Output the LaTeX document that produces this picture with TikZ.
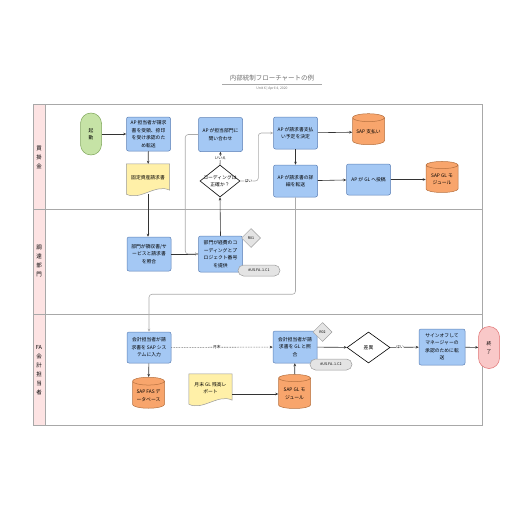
\documentclass[tikz,border=0pt]{standalone}
\usepackage{fontspec}
\setmainfont{Noto Sans CJK JP}
\usetikzlibrary{shapes.geometric,arrows.meta,backgrounds}
\definecolor{boxblue}{HTML}{A4C8F4}
\definecolor{boxblueb}{HTML}{5B7FB5}
\definecolor{docy}{HTML}{FFF0A8}
\definecolor{docb}{HTML}{9A9A9A}
\definecolor{cylo}{HTML}{F8A56C}
\definecolor{cylb}{HTML}{B5703F}
\definecolor{startg}{HTML}{C6E3A6}
\definecolor{startb}{HTML}{7FA65A}
\definecolor{endr}{HTML}{F9C8C8}
\definecolor{endb}{HTML}{E07070}
\definecolor{lanep}{HTML}{FDE3E3}
\definecolor{frameg}{HTML}{A8A8A8}
\definecolor{tagg}{HTML}{E4E4E4}
\definecolor{tagb}{HTML}{9C9C9C}
\definecolor{linek}{HTML}{333333}
\definecolor{lineg}{HTML}{ABABAB}
\definecolor{titleg}{HTML}{707070}
\tikzset{
  txt/.style={font=\fontsize{4.8}{7.5}\selectfont, align=center},
  proc/.style={txt, draw=boxblueb, fill=boxblue, rounded corners=2pt, minimum width=44pt, minimum height=34pt, inner sep=1pt, line width=0.5pt},
  cyl/.style={txt, cylinder, shape border rotate=90, aspect=0.3, draw=cylb, fill=cylo, minimum width=32pt, minimum height=31pt, inner sep=1pt, line width=0.5pt},
  docnode/.style={txt, minimum width=43pt, minimum height=28pt, inner sep=1pt},
  docpath/.style={draw=docb, fill=docy, line width=0.5pt},
  term/.style={txt, rounded corners=10.5pt, minimum width=21pt, minimum height=42pt, inner sep=0pt, line width=0.5pt},
  dia/.style={diamond, draw=black, fill=white, inner sep=0pt, line width=0.6pt},
  tagd/.style={diamond, draw=tagb, fill=tagg, minimum width=19pt, minimum height=19pt, inner sep=0pt, font=\fontsize{3.6}{4}\selectfont, line width=0.5pt},
  tage/.style={draw=tagb, fill=tagg, rounded corners=5.5pt, minimum width=42pt, minimum height=11pt, inner sep=0pt, font=\fontsize{3.6}{4}\selectfont, line width=0.5pt},
  lane/.style={font=\fontsize{5.5}{9}\selectfont, align=center},
  conn/.style={draw=linek, line width=0.6pt, -{Stealth[length=3pt,width=2.6pt]}},
  gconn/.style={draw=lineg, line width=0.6pt, rounded corners=3pt, -{Stealth[length=3pt,width=2.6pt]}},
  lbl/.style={font=\fontsize{3.8}{4}\selectfont, fill=white, inner sep=0.5pt},
}
\begin{document}
\begin{tikzpicture}[x=1pt,y=-1pt]
\useasboundingbox (0,0) rectangle (516,516);
% title
\node[font=\fontsize{6.5}{7}\selectfont, text=titleg] (title) at (272,78) {内部統制フローチャートの例};
\draw[frameg, line width=0.5pt] (222,84) -- (322,84);
\node[font=\fontsize{3.4}{4}\selectfont, text=titleg] (sub) at (272,89) {Unit X \textbar{} April 4, 2020};
% frame and lanes
\fill[lanep] (33,104) rectangle (45,425);
\draw[frameg, line width=0.6pt] (33,104) rectangle (482,425);
\draw[frameg, line width=0.6pt] (45,104) -- (45,425);
\draw[frameg, line width=0.6pt] (33,209) -- (482,209);
\draw[frameg, line width=0.6pt] (33,314) -- (482,314);
\node[lane] (l1) at (39,157) {買\\掛\\金};
\node[lane] (l2) at (39,261) {調\\達\\部\\門};
\node[lane] (l3) at (39,370) {FA\\会\\計\\担\\当\\者};
% lane 1
\node[term, draw=startb, fill=startg] (start) at (91,134) {起\\動};
\node[proc] (ap1) at (148.5,134) {AP 担当者が請求\\書を受領、捺印\\を受け承認のた\\め転送};
\node[docnode] (doc1) at (148,178) {固定資産請求書};
\node[proc] (ask) at (220.5,134.5) {AP が担当部門に\\問い合わせ};
\node[dia, minimum width=40pt, minimum height=32pt] (code) at (220,181) {};
\node[txt] (codet) at (220,181) {コーディングは\\正確か？};
\node[proc, minimum height=32pt] (sched) at (295.5,133) {AP が請求書支払\\い予定を決定};
\node[proc, minimum height=32pt] (det) at (295.5,181) {AP が請求書の詳\\細を転送};
\node[cyl] (pay) at (368.5,132) {SAP 支払い};
\node[proc, minimum height=31pt] (post) at (368.5,179.5) {AP が GL へ投稿};
\node[cyl] (gl1) at (442,179.5) {SAP GL モ\\ジュール};
% lane 2
\node[proc] (dept1) at (149,254) {部門が領収書/サ\\ービスと請求書\\を照合};
\node[proc, minimum height=36pt] (dept2) at (220.5,254) {部門が経費のコ\\ーディングとプ\\ロジェクト番号\\を提供};
\node[tagd] (r01) at (251,238) {R01};
\node[tage] (c1) at (259,270.5) {\#US.FA..1.C1};
% lane 3
\node[proc, minimum height=31pt] (acc1) at (149,347.5) {会計担当者が請\\求書を SAP シス\\テムに入力};
\node[cyl] (fas) at (148.5,395.5) {SAP FAS デ\\ータベース};
\node[docnode] (doc2) at (210.5,388) {月末 GL 残高レ\\ポート};
\node[proc, minimum height=32pt] (acc2) at (295,347) {会計担当者が請\\求書を GL と照\\合};
\node[tagd] (r02) at (322.5,332) {R02};
\node[tage] (c2) at (331,364.5) {\#US.FA..1.C2};
\node[cyl, minimum height=34pt] (gl2) at (294.5,394) {SAP GL モ\\ジュール};
\node[dia, minimum width=43pt, minimum height=31pt, txt] (var) at (368.5,347.5) {差異};
\node[proc, minimum width=46pt, minimum height=36pt] (sign) at (442,347) {サインオフして\\マネージャーの\\承認のために転\\送};
\node[term, draw=endb, fill=endr] (end) at (489,347.5) {終\\了};
% document shapes
\begin{scope}[on background layer]
\path[docpath] (doc1.north west) -- (doc1.north east) -- ([yshift=2pt]doc1.south east)
  .. controls ([xshift=-14pt,yshift=9pt]doc1.south east) and ([xshift=14pt,yshift=-9pt]doc1.south west) .. ([yshift=-2pt]doc1.south west) -- cycle;
\path[docpath] (doc2.north west) -- (doc2.north east) -- ([yshift=2pt]doc2.south east)
  .. controls ([xshift=-14pt,yshift=9pt]doc2.south east) and ([xshift=14pt,yshift=-9pt]doc2.south west) .. ([yshift=-2pt]doc2.south west) -- cycle;
\end{scope}
% connectors
\draw[conn] (start) -- (ap1);
\draw[conn] (ap1) -- (doc1);
\draw[conn] ([yshift=-2pt]doc1.south) -- (doc1.south |- dept1.north);
\draw[conn] (dept1) -- (dept2);
\draw[conn] (dept2.north) -- (code.south);
\draw[conn] (code.north) -- node[lbl, pos=0.5] (no1) {いいえ} (ask.south);
\draw[gconn] (code.east) -- node[lbl, pos=0.45] (yes1) {はい} ++(18,0) |- (sched.west);
\draw[gconn] (ask.west) -- ++(-13,0) |- (dept2.west);
\draw[conn] (sched) -- (pay);
\draw[conn] (sched) -- (det);
\draw[conn] (det) -- (post);
\draw[conn] (post) -- (gl1);
\draw[gconn] (det.south) -- ++(0,97) -| (acc1.north);
\draw[conn] (acc1) -- (fas);
\draw[conn, densely dotted] (acc1) -- node[lbl, pos=0.45] (me) {月末} (acc2);
\draw[conn] (doc2.east |- gl2.west) -- (gl2.west);
\draw[conn] (gl2) -- (acc2);
\draw[conn] (acc2) -- (var);
\draw[conn] (var) -- node[lbl, pos=0.35] (yes2) {はい} (sign);
\draw[conn] (sign) -- (end);
\end{tikzpicture}
\end{document}
